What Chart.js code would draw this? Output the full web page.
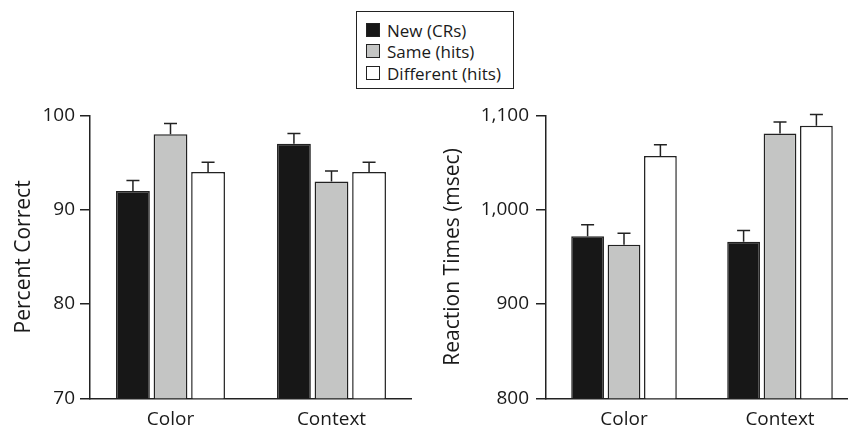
<!DOCTYPE html>
<html><head><meta charset="utf-8">
<script src="https://cdn.jsdelivr.net/npm/chart.js@4/dist/chart.umd.min.js"></script>
<style>
html,body{margin:0;padding:0;background:#fff;width:848px;height:426px;overflow:hidden;position:relative;font-family:"Open Sans",sans-serif;}
#c1{position:absolute;left:0;top:0;}
#c2{position:absolute;left:420px;top:0;}
#legend{position:absolute;left:356px;top:11px;width:158px;height:78px;box-sizing:border-box;border:1.5px solid #222;background:#fff;}
.item{position:absolute;left:9px;height:22px;display:flex;align-items:center;font-size:17px;color:#1a1a1a;white-space:nowrap;}
.sw{width:14px;height:14px;box-sizing:border-box;border:1px solid #222;margin-right:7px;}
</style></head><body>
<div id="legend"></div>
<canvas id="c1" width="412" height="426"></canvas>
<canvas id="c2" width="438" height="426"></canvas>
<script>
// ---- data ----
const categories = ["Color", "Context"];
const seriesNames = ["New (CRs)", "Same (hits)", "Different (hits)"];

const accNew  = [92, 97];
const accSame = [98, 93];
const accDiff = [94, 94];
const accNewErr  = [1.1, 1.1];
const accSameErr = [1.15, 1.1];
const accDiffErr = [1.05, 1.05];

const rtNew  = [972, 966];
const rtSame = [963, 1081];
const rtDiff = [1057, 1089];
const rtNewErr  = [12, 12];
const rtSameErr = [12, 12];
const rtDiffErr = [12, 12];

const accTicks = [70, 80, 90, 100];
const rtTicks = [800, 900, 1000, 1100];

// ---- styles ----
const fills = ["#171717", "#c4c5c4", "#ffffff"];
const edge = "#222222";
const FONT = '"Open Sans", sans-serif';

// legend
const lg = document.getElementById('legend');
const rowTops = [7, 28, 50];
seriesNames.forEach((n, i) => {
  const d = document.createElement('div');
  d.className = 'item';
  d.style.top = rowTops[i] + 'px';
  const s = document.createElement('div');
  s.className = 'sw';
  s.style.background = fills[i];
  d.appendChild(s);
  d.appendChild(document.createTextNode(n));
  lg.appendChild(d);
});

const errorBars = {
  id: 'errorBars',
  afterDatasetsDraw(chart) {
    const ctx = chart.ctx, y = chart.scales.y;
    chart.data.datasets.forEach((ds, i) => {
      const meta = chart.getDatasetMeta(i);
      meta.data.forEach((bar, j) => {
        const top = y.getPixelForValue(ds.data[j] + ds.errors[j]);
        ctx.save();
        ctx.strokeStyle = edge;
        ctx.lineWidth = 1.5;
        ctx.beginPath();
        ctx.moveTo(bar.x, bar.y);
        ctx.lineTo(bar.x, top);
        ctx.moveTo(bar.x - 6.5, top);
        ctx.lineTo(bar.x + 6.5, top);
        ctx.stroke();
        ctx.restore();
      });
    });
  }
};

function makeChart(id, vals, errs, ticks, title, yWidth, titlePad, labelPad) {
  const datasets = vals.map((v, i) => ({
    label: seriesNames[i],
    data: v,
    errors: errs[i],
    backgroundColor: fills[i],
    borderColor: edge,
    borderWidth: 1.5,
    categoryPercentage: 0.7,
    barPercentage: 0.9
  }));
  return new Chart(document.getElementById(id), {
    type: 'bar',
    data: { labels: categories, datasets },
    plugins: [errorBars],
    options: {
      responsive: false,
      animation: false,
      devicePixelRatio: 1,
      layout: { padding: { top: 115.5, left: 0, right: 0, bottom: 0 } },
      plugins: { legend: { display: false }, tooltip: { enabled: false } },
      scales: {
        x: {
          grid: { display: false },
          border: { display: true, color: edge, width: 1.5 },
          ticks: { color: '#1a1a1a', font: { family: FONT, size: 19 }, padding: 2 },
          afterFit(s) { s.height = 27.7; }
        },
        y: {
          min: ticks[0], max: ticks[ticks.length - 1],
          afterBuildTicks(s) { s.ticks = ticks.map(v => ({ value: v })); },
          grid: { drawOnChartArea: false, drawTicks: true, tickLength: 10, color: edge, lineWidth: 1.5 },
          border: { display: true, color: edge, width: 1.5 },
          ticks: { color: '#1a1a1a', font: { family: FONT, size: 19 }, padding: labelPad },
          title: { display: true, text: title, color: '#1a1a1a', font: { family: FONT, size: 21 }, padding: { top: titlePad, bottom: 0 } },
          afterFit(s) { s.width = yWidth; }
        }
      }
    }
  });
}

document.fonts.load('19px "Open Sans"').then(() => {
  makeChart('c1', [accNew, accSame, accDiff], [accNewErr, accSameErr, accDiffErr], accTicks, 'Percent Correct', 90, 11.4, 5);
  makeChart('c2', [rtNew, rtSame, rtDiff], [rtNewErr, rtSameErr, rtDiffErr], rtTicks, 'Reaction Times (msec)', 126, 20.4, 7);
});
</script>
</body></html>
